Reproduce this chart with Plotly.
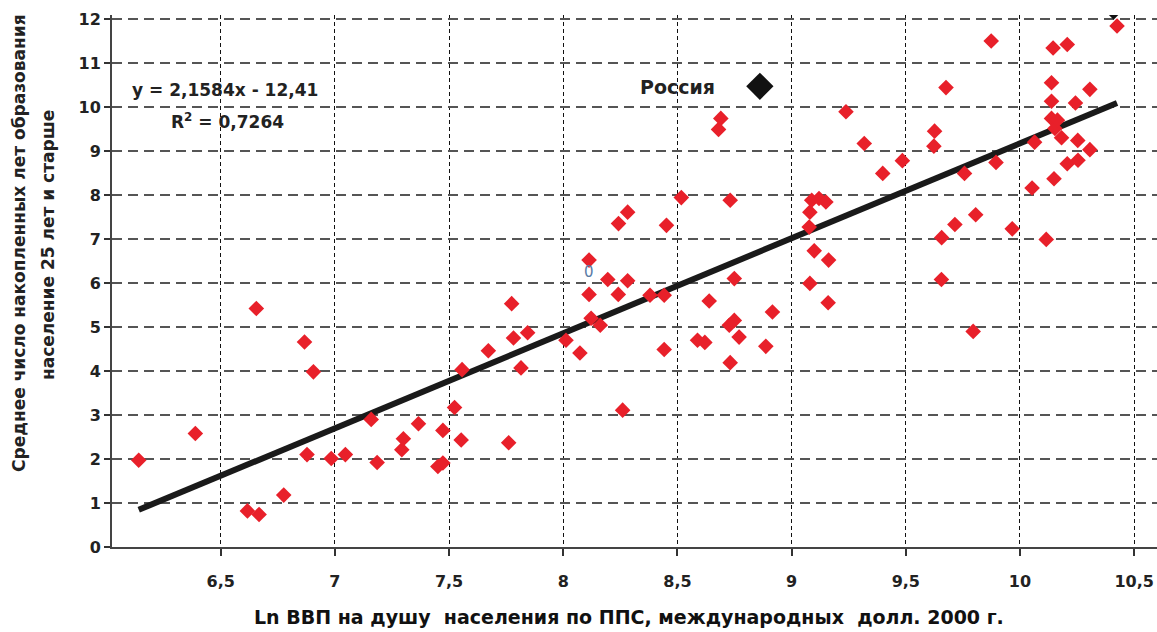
import plotly.graph_objects as go

# ln GDP per capita (PPP, 2000 intl $) vs mean years of schooling, 25+
ln_gdp = [
    6.141, 6.389, 6.617, 6.668, 6.656, 6.776, 6.867, 6.878, 6.906, 6.984,
    7.046, 7.159, 7.185, 7.293, 7.300, 7.366, 7.451, 7.473, 7.473, 7.524,
    7.553, 7.557, 7.672, 7.761, 7.774, 7.782, 7.815, 7.844, 8.012, 8.073,
    8.113, 8.113, 8.122, 8.162, 8.195, 8.241, 8.242, 8.260, 8.282, 8.282,
    8.380, 8.442, 8.442, 8.452, 8.517, 8.588, 8.620, 8.639, 8.680, 8.690,
    8.727, 8.731, 8.731, 8.749, 8.749, 8.770, 8.887, 8.916, 9.077, 9.080,
    9.080, 9.088, 9.099, 9.120, 9.150, 9.160, 9.162, 9.238, 9.318, 9.399,
    9.485, 9.623, 9.626, 9.656, 9.657, 9.676, 9.715, 9.757, 9.795, 9.806,
    9.874, 9.895, 9.966, 10.053, 10.064, 10.115, 10.138, 10.138, 10.138, 10.145,
    10.149, 10.153, 10.164, 10.182, 10.207, 10.207, 10.243, 10.253, 10.254, 10.306,
    10.306, 10.425,
]
school_years = [
    1.97, 2.58, 0.82, 0.74, 5.42, 1.18, 4.66, 2.10, 3.98, 2.01,
    2.10, 2.90, 1.92, 2.21, 2.46, 2.80, 1.83, 1.91, 2.65, 3.17,
    2.43, 4.03, 4.46, 2.37, 5.53, 4.75, 4.07, 4.87, 4.70, 4.41,
    6.52, 5.74, 5.20, 5.04, 6.08, 5.74, 7.35, 3.11, 7.61, 6.05,
    5.72, 5.72, 4.49, 7.31, 7.94, 4.70, 4.65, 5.59, 9.49, 9.74,
    5.04, 7.88, 4.19, 6.10, 5.15, 4.77, 4.56, 5.34, 7.27, 5.99,
    7.61, 7.88, 6.73, 7.92, 7.84, 5.55, 6.52, 9.89, 9.17, 8.49,
    8.78, 9.11, 9.45, 6.08, 7.03, 10.44, 7.33, 8.49, 4.90, 7.55,
    11.50, 8.74, 7.23, 8.16, 9.20, 6.99, 10.55, 10.13, 9.74, 11.34,
    8.37, 9.51, 9.70, 9.30, 11.42, 8.71, 10.09, 9.24, 8.79, 10.40,
    9.03, 11.84,
]

russia_x = [8.861]
russia_y = [10.47]

# partly hidden black marker at the top edge
top_x = [10.41]
top_y = [12.16]

# trend line y = 2,1584x - 12,41
slope = 2.1584
intercept = -12.41
trend_x = [6.141, 10.425]
trend_y = [slope * v + intercept for v in trend_x]

x_ticks = [6.5, 7, 7.5, 8, 8.5, 9, 9.5, 10, 10.5]
x_labels = ["6,5", "7", "7,5", "8", "8,5", "9", "9,5", "10", "10,5"]
y_ticks = list(range(0, 13))

FONT = "DejaVu Sans, sans-serif"

W, H = 1157, 632
ML, MR, MT, MB = 112, 0, 15, 85
pw, ph = W - ML - MR, H - MT - MB


def px(x, y):
    # pixel -> paper coords
    return (x - ML) / pw, 1 - (y - MT) / ph


fig = go.Figure()
fig.add_trace(go.Scatter(
    x=trend_x, y=trend_y, mode="lines",
    line=dict(color="#1a1a1a", width=6), hoverinfo="skip"))
fig.add_trace(go.Scatter(
    x=ln_gdp, y=school_years, mode="markers",
    marker=dict(symbol="diamond", size=12, color="#e8202a")))
fig.add_trace(go.Scatter(
    x=russia_x, y=russia_y, mode="markers",
    marker=dict(symbol="diamond", size=21, color="#111111")))
fig.add_trace(go.Scatter(
    x=top_x, y=top_y, mode="markers",
    marker=dict(symbol="diamond", size=12, color="#111111")))


def note(x, y, text, size=15, color="#222", angle=0):
    ax, ay = px(x, y)
    fig.add_annotation(x=ax, y=ay, xref="paper", yref="paper", text=text,
                       xanchor="center", yanchor="middle",
                       textangle=angle, showarrow=False,
                       font=dict(family=FONT, size=size, color=color))


note(225, 90, "<b>y = 2,1584x - 12,41</b>", 17)
note(227, 121, "<b>R<sup>2</sup> = 0,7264</b>", 17)
note(677, 87, "<b>Россия</b>", 19)
note(589, 272, "0", 15, "#5a7ca6")
note(19, 243, "<b>Среднее число накопленных лет образования</b>", 17, angle=-90)
note(48, 245, "<b>население 25 лет и старше</b>", 17, angle=-90)
note(629, 617, "<b>Ln ВВП на душу  населения по ППС, международных  долл. 2000 г.</b>", 19, "#111")

fig.update_layout(
    width=W, height=H,
    margin=dict(l=ML, r=MR, t=MT, b=MB),
    paper_bgcolor="white", plot_bgcolor="white",
    showlegend=False,
    font=dict(family=FONT, color="#222"),
)
fig.update_xaxes(
    range=[6.024, 10.6], tickvals=x_ticks, ticktext=x_labels,
    tickfont=dict(family=FONT, size=16, color="#222", weight="bold"),
    showline=True, linecolor="#444", linewidth=2,
    ticks="outside", ticklen=7, tickcolor="#333", tickwidth=1.5,
    ticklabelstandoff=12,
    showgrid=True, gridcolor="#111", gridwidth=1.3, griddash="4px,3px",
    zeroline=False,
)
fig.update_yaxes(
    range=[0, 12.09], tickvals=y_ticks,
    tickfont=dict(family=FONT, size=16, color="#222", weight="bold"),
    showline=True, linecolor="#444", linewidth=2,
    ticks="outside", ticklen=6, tickcolor="#333", tickwidth=1.5,
    showgrid=True, gridcolor="#555", gridwidth=1.6, griddash="10px,6px",
    zeroline=False,
)

# drop the default page margin so the figure fills the window exactly
fig.write_html("out.html", config={"displayModeBar": False},
               post_script="document.body.style.margin='0';document.body.style.overflow='hidden';")
